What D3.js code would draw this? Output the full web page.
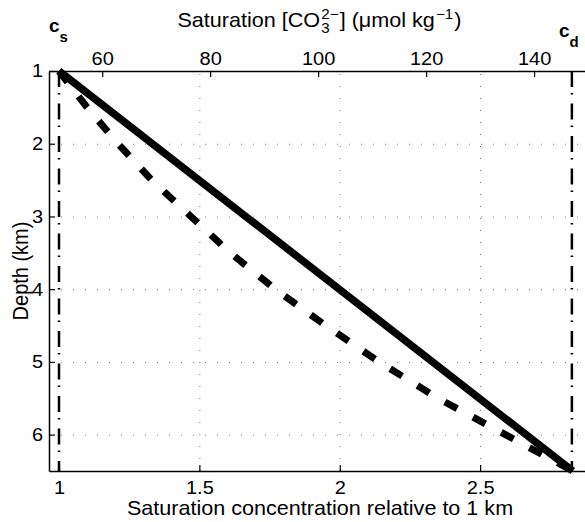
<!DOCTYPE html>
<html>
<head>
<meta charset="utf-8">
<script src="https://cdn.jsdelivr.net/npm/d3@7"></script>
<style>
  body { margin: 0; background: #fff; }
  text { font-family: "Liberation Sans", Arial, sans-serif; fill: #000; }
</style>
</head>
<body>
<svg id="chart"></svg>
<script>
// saturation at surface / deep (umol/kg)
var cs = 52, cd = 147;

// solid line: relative saturation vs depth
var solidRel = [1, 2.83];
var solidDepth = [1, 6.5];

// dashed line
var dashDepth = [1, 1.5, 2, 2.5, 3, 3.5, 4, 4.5, 5, 5.5, 6, 6.5];
var dashRel = [1, 1.10, 1.21, 1.33, 1.47, 1.61, 1.77, 1.95, 2.14, 2.35, 2.59, 2.83];

var bottomTicks = [1, 1.5, 2, 2.5];
var topTicks = [60, 80, 100, 120, 140];
var depthTicks = [1, 2, 3, 4, 5, 6];

var W = 585, H = 522;
var margin = {top: 71, left: 49, right: 591, bottom: 471};
var tickFont = '18.5px', labelFont = '20px';
var S = 1.08; // glyphs in the original are a bit wide

var svg = d3.select('#chart')
            .attr('width', W)
            .attr('height', H);

var x = d3.scaleLinear()
          .domain([0.9644, 2.895])
          .range([margin.left, margin.right]);

// top axis is the same thing in umol/kg
var xTop = d3.scaleLinear()
             .domain(x.domain().map(d => d * cs))
             .range(x.range());

var y = d3.scaleLinear()
          .domain([1, 6.5])
          .range([margin.top, margin.bottom]);

function stretch(sel) {
  sel.each(function() {
    var t = d3.select(this);
    var tx = +t.attr('x') || 0, ty = +t.attr('y') || 0;
    t.attr('x', 0).attr('y', 0)
     .attr('transform', 'translate(' + tx + ',' + ty + ') scale(' + S + ',1)');
  });
}

// grid
var grid = svg.append('g')
              .attr('stroke', '#777')
              .attr('stroke-width', 1)
              .attr('stroke-dasharray', '1,11');

grid.selectAll('.vg')
    .data(bottomTicks.slice(1))
    .enter().append('line')
    .attr('x1', d => x(d) + 0.5).attr('x2', d => x(d) + 0.5)
    .attr('y1', margin.bottom).attr('y2', margin.top);

grid.selectAll('.hg')
    .data(depthTicks.slice(1))
    .enter().append('line')
    .attr('y1', d => y(d) + 0.5).attr('y2', d => y(d) + 0.5)
    .attr('x1', margin.left).attr('x2', margin.right);

// cs and cd reference lines
svg.selectAll('.ref')
   .data([cs, cd])
   .enter().append('line')
   .attr('x1', d => xTop(d)).attr('x2', d => xTop(d))
   .attr('y1', margin.top).attr('y2', margin.bottom)
   .attr('stroke', '#000')
   .attr('stroke-width', 2.5)
   .attr('stroke-dasharray', '16,6,1.5,9');

var line = d3.line()
             .x(d => x(d[0]))
             .y(d => y(d[1]));

svg.append('path')
   .datum(dashRel.map((v, i) => [v, dashDepth[i]]))
   .attr('d', line)
   .attr('fill', 'none')
   .attr('stroke', '#000')
   .attr('stroke-width', 7)
   .attr('stroke-dasharray', '14,18');

svg.append('path')
   .datum(solidRel.map((v, i) => [v, solidDepth[i]]))
   .attr('d', line)
   .attr('fill', 'none')
   .attr('stroke', '#000')
   .attr('stroke-width', 7.5);

// axes
function styleAxis(g) {
  g.attr('font-size', null).attr('font-family', null);
  g.select('.domain').attr('stroke-width', 1.5);
  g.selectAll('.tick line').attr('stroke-width', 1.2);
  g.selectAll('.tick text').style('font-size', tickFont).call(stretch);
}

var fmt = d => String(d);

svg.append('g')
   .attr('transform', 'translate(0,' + margin.bottom + ')')
   .call(d3.axisBottom(x).tickValues(bottomTicks).tickFormat(fmt).tickSizeInner(-6).tickSizeOuter(0).tickPadding(10))
   .call(styleAxis);

svg.append('g')
   .attr('transform', 'translate(0,' + margin.top + ')')
   .call(d3.axisTop(xTop).tickValues(topTicks).tickFormat(fmt).tickSizeInner(-6).tickSizeOuter(0).tickPadding(6))
   .call(styleAxis);

svg.append('g')
   .attr('transform', 'translate(' + margin.left + ',0)')
   .call(d3.axisLeft(y).tickValues(depthTicks).tickFormat(fmt).tickSizeInner(-6).tickSizeOuter(0).tickPadding(6))
   .call(styleAxis);

// labels
var cx = (margin.left + margin.right) / 2;

svg.append('text')
   .attr('x', cx).attr('y', 515)
   .attr('text-anchor', 'middle')
   .style('font-size', labelFont)
   .text('Saturation concentration relative to 1 km')
   .call(stretch);

// title with super/subscripts, laid out piece by piece
var title = svg.append('g');
var pieces = [
  {t: 'Saturation [CO', size: 20, dy: 0},
  {t: '2\u2212', size: 14, dy: -8, stack: '3', sdy: 6},
  {t: '] (\u03bcmol kg', size: 20, dy: 0},
  {t: '\u22121', size: 14, dy: -8},
  {t: ')', size: 20, dy: 0}
];
var px = 0;
pieces.forEach(function(p) {
  var t = title.append('text')
     .attr('x', px).attr('y', p.dy)
     .style('font-size', p.size + 'px')
     .text(p.t);
  var w = t.node().getComputedTextLength();
  if (p.stack) {
    title.append('text')
       .attr('x', px).attr('y', p.sdy)
       .style('font-size', p.size + 'px')
       .text(p.stack);
  }
  px += w + 1;
});
title.attr('transform', 'translate(' + (cx - px * S / 2) + ',27) scale(' + S + ',1)');

svg.append('text')
   .attr('transform', 'translate(28,' + ((margin.top + margin.bottom) / 2) + ') rotate(-90) scale(1,' + S + ')')
   .attr('text-anchor', 'middle')
   .style('font-size', labelFont)
   .text('Depth (km)');

function subLabel(px, py, main, sub) {
  var t = svg.append('text')
     .attr('x', px).attr('y', py)
     .style('font-size', '19px')
     .style('font-weight', 'bold');
  t.append('tspan').text(main);
  t.append('tspan').attr('dy', 10).style('font-size', '15px').text(sub);
}
subLabel(49, 32, 'c', 's');
subLabel(559, 37, 'c', 'd');
</script>
</body>
</html>
